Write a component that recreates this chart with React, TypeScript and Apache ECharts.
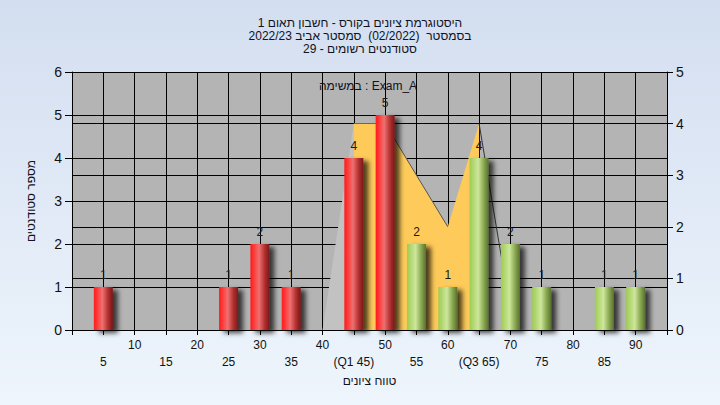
import React, { useEffect, useRef } from "react";
import * as echarts from "echarts";

// ---- data ----
const titleLines = [
  "היסטוגרמת ציונים בקורס - חשבון תאום 1",
  "בסמסטר  (02/2022)  סמסטר אביב 2022/23",
  "סטודנטים רשומים - 29",
];
const legendText = "במשימה : Exam_A";
const yAxisTitle = "מספר סטודנטים";
const xAxisTitle = "טווח ציונים";

const scores = [5, 25, 30, 35, 45, 50, 55, 60, 65, 70, 75, 85, 90];
const counts = [1, 1, 2, 1, 4, 5, 2, 1, 4, 2, 1, 1, 1];
const passFrom = 55;

const specialTickLabels: Record<number, string> = { 45: "(Q1 45)", 65: "(Q3 65)" };

// shaded "task" area (right axis)
const areaX = [45, 45, 50, 60, 65, 65];
const areaY = [0, 4, 4, 2, 4, 0];
const wedgeX = [40, 45, 45];
const wedgeY = [0, 4, 0];
const edge1X = [50, 60];
const edge1Y = [4, 2];
const edge2X = [65, 70.5];
const edge2Y = [4, 0];

const FONT = "'Liberation Sans', 'DejaVu Sans', Arial, sans-serif";

const zip = (xs: number[], ys: number[]) => xs.map((x, i) => [x, ys[i]]);

const redGrad = new echarts.graphic.LinearGradient(0, 0, 1, 0, [
  { offset: 0, color: "#ff1a1a" },
  { offset: 0.15, color: "#ff3434" },
  { offset: 0.45, color: "#ee7070" },
  { offset: 0.75, color: "#b33030" },
  { offset: 1, color: "#781818" },
]);
const greenGrad = new echarts.graphic.LinearGradient(0, 0, 1, 0, [
  { offset: 0, color: "#9dcc52" },
  { offset: 0.45, color: "#cde69c" },
  { offset: 0.75, color: "#88a850" },
  { offset: 1, color: "#5a7030" },
]);

export default function App() {
  const ref = useRef<HTMLDivElement>(null);
  useEffect(() => {
    if (!ref.current) return;
    const chart = echarts.init(ref.current, undefined, { renderer: "svg" });
    const axisTextColor = "#111";
    chart.setOption({
      animation: false,
      backgroundColor: {
        type: "linear",
        x: 0,
        y: 0,
        x2: 0,
        y2: 1,
        colorStops: [
          { offset: 0, color: "#d3def0" },
          { offset: 1, color: "#eef5fc" },
        ],
      },
      textStyle: { fontFamily: FONT },
      title: {
        text: titleLines.join("\n"),
        left: "center",
        top: 11,
        textStyle: {
          fontFamily: FONT,
          fontSize: 12,
          fontWeight: "normal",
          lineHeight: 13,
          color: "#111122",
        },
      },
      graphic: [
        {
          type: "text",
          x: 368,
          y: 86,
          z: 100,
          style: {
            text: legendText,
            font: `12px ${FONT}`,
            fill: "#111122",
            align: "center",
            verticalAlign: "middle",
          },
        },
      ],
      grid: {
        left: 72,
        right: 53,
        top: 72,
        bottom: 75,
        show: true,
        backgroundColor: "#b4b4b4",
        borderWidth: 0,
      },
      xAxis: {
        type: "value",
        min: 0,
        max: 95,
        interval: 5,
        name: xAxisTitle,
        nameLocation: "middle",
        nameGap: 45,
        nameTextStyle: { fontFamily: FONT, fontSize: 12, color: "#111122" },
        axisLine: { show: true, lineStyle: { color: "#000", width: 1 } },
        axisTick: { show: true, length: 5, lineStyle: { color: "#000" } },
        splitLine: { show: true, lineStyle: { color: "#000", width: 1 } },
        axisLabel: {
          margin: 6,
          fontFamily: FONT,
          fontSize: 12,
          lineHeight: 17,
          color: axisTextColor,
          showMinLabel: true,
          showMaxLabel: true,
          formatter: (v: number) => {
            if (v <= 0 || v >= 95) return "";
            const lab = specialTickLabels[v] ?? String(v);
            return (v / 5) % 2 === 1 ? "\n" + lab : lab + "\n";
          },
        },
      },
      yAxis: [
        {
          type: "value",
          min: 0,
          max: 6,
          interval: 1,
          position: "left",
          name: yAxisTitle,
          nameLocation: "middle",
          nameGap: 35,
          nameRotate: 90,
          nameTextStyle: { fontFamily: FONT, fontSize: 12, color: "#111122" },
          axisLine: { show: true, lineStyle: { color: "#000", width: 1 } },
          axisTick: { show: true, length: 7, lineStyle: { color: "#000" } },
          splitLine: { show: true, lineStyle: { color: "#000", width: 1 } },
          axisLabel: { margin: 10, fontFamily: FONT, fontSize: 14, color: axisTextColor },
        },
        {
          type: "value",
          min: 0,
          max: 5,
          interval: 1,
          position: "right",
          axisLine: { show: true, lineStyle: { color: "#000", width: 1 } },
          axisTick: { show: true, length: 6, lineStyle: { color: "#000" } },
          splitLine: { show: true, lineStyle: { color: "#000", width: 1 } },
          axisLabel: { margin: 9, fontFamily: FONT, fontSize: 14, color: axisTextColor },
        },
      ],
      series: [
        {
          type: "line",
          yAxisIndex: 1,
          data: zip(wedgeX, wedgeY),
          symbol: "none",
          lineStyle: { width: 0 },
          areaStyle: { color: "#c2c2c2", opacity: 1 },
          z: 1,
        },
        {
          type: "line",
          yAxisIndex: 1,
          data: zip(areaX, areaY),
          symbol: "none",
          lineStyle: { width: 0 },
          areaStyle: { color: "#fecb5a", opacity: 1 },
          z: 1,
        },
        {
          type: "line",
          yAxisIndex: 1,
          data: zip(edge1X, edge1Y),
          symbol: "none",
          lineStyle: { width: 1, color: "#555" },
          z: 2,
        },
        {
          type: "line",
          yAxisIndex: 1,
          data: zip(edge2X, edge2Y),
          symbol: "none",
          lineStyle: { width: 1, color: "#333" },
          z: 2,
        },
        {
          type: "bar",
          yAxisIndex: 0,
          barWidth: 19,
          z: 3,
          data: scores.map((s, i) => ({
            value: [s, counts[i]],
            itemStyle: {
              color: s >= passFrom ? greenGrad : redGrad,
              shadowColor: "rgba(0,0,0,0.7)",
              shadowBlur: 5,
              shadowOffsetX: 5,
              shadowOffsetY: 3,
            },
          })),
          label: {
            show: true,
            position: "top",
            distance: 6,
            fontFamily: FONT,
            fontSize: 12,
            color: "#1a1a1a",
            formatter: (p: any) => String(p.value[1]),
          },
        },
      ],
    });
    return () => chart.dispose();
  }, []);
  return (
    <div
      ref={ref}
      style={{ position: "fixed", left: 0, top: 0, width: 720, height: 405 }}
    />
  );
}
